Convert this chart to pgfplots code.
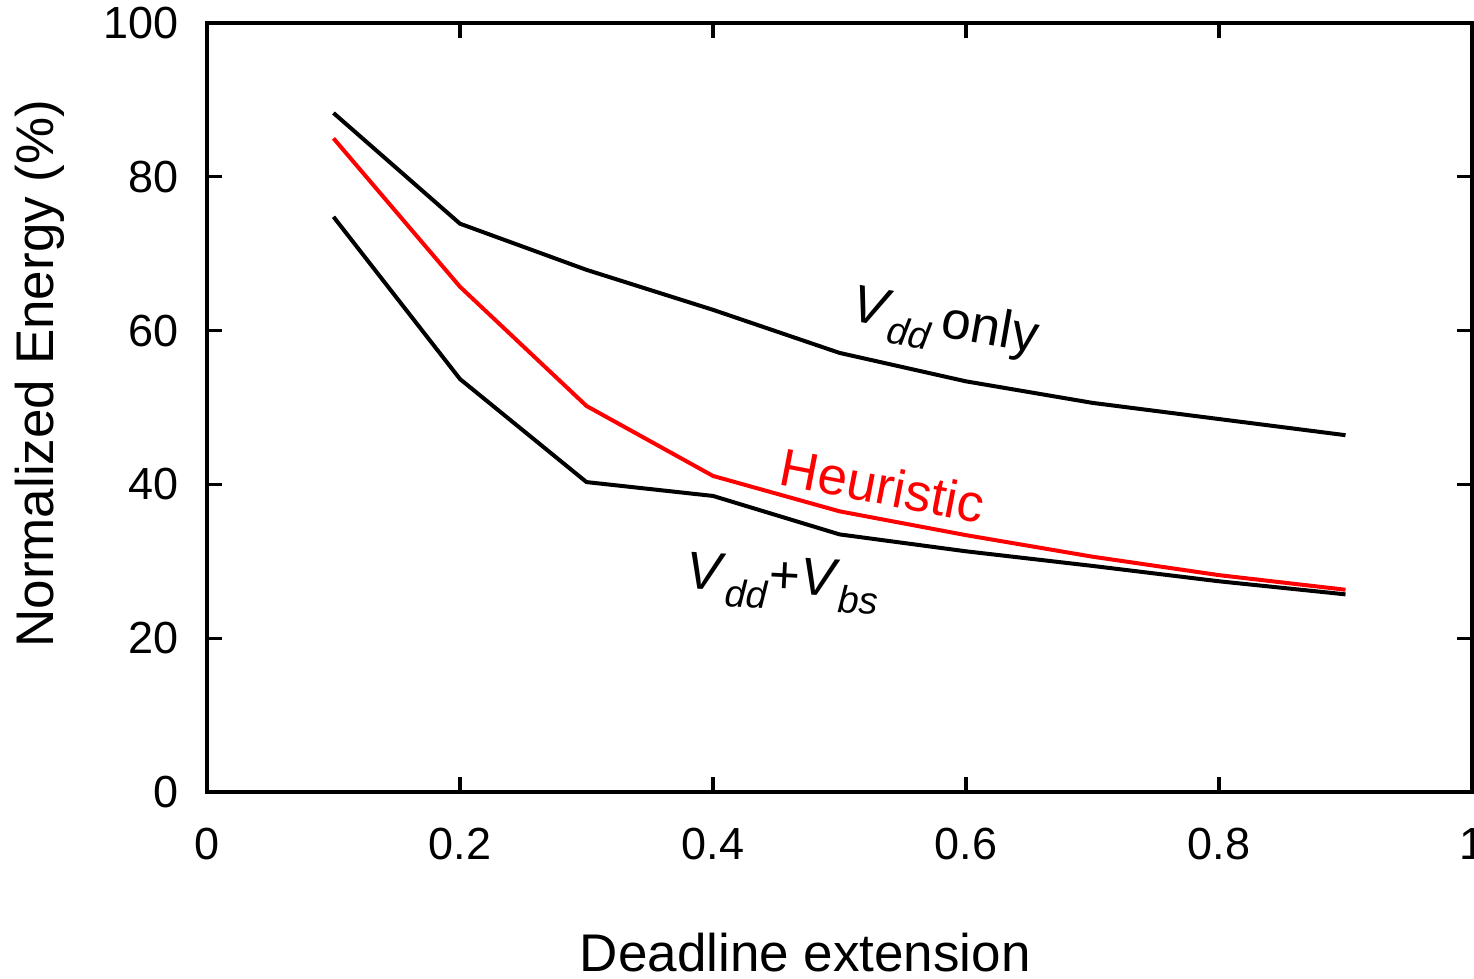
\documentclass[border=0pt]{standalone}
\usepackage{pgfplots}
\pgfplotsset{compat=1.18}
\usepackage{fontspec}
\setmainfont{Liberation Sans}
\newcommand\sub[1]{\raisebox{-0.3em}{\fontsize{19bp}{20bp}\selectfont\textit{#1}}}
\begin{document}
\begin{tikzpicture}[x=1bp,y=1bp]
\begin{axis}[
  scale only axis,
  width=632.5bp, height=384.5bp,
  xmin=0, xmax=1, ymin=0, ymax=100,
  xtick={0,0.2,0.4,0.6,0.8,1},
  ytick={0,20,40,60,80,100},
  xticklabels={0,0.2,0.4,0.6,0.8,1},
  tick align=inside,
  major tick length=7.5bp,
  tick style={line width=1.6bp,black},
  axis line style={line width=1.6bp},
  /pgf/number format/assume math mode=true,
  ticklabel style={font=\fontsize{22.5bp}{26bp}\selectfont},
  yticklabel style={xshift=-10.5bp},
  xticklabel style={yshift=-14.5bp},
  label style={font=\fontsize{26.5bp}{30bp}\selectfont},
  xlabel={Deadline extension},
  ylabel={Normalized Energy (\%)},
  x label style={at={(axis description cs:0.473,-0.234)}, anchor=base},
  y label style={at={(axis description cs:-0.132,0.544)}, anchor=center},
  clip=false,
]
\addplot[black, line width=2bp] coordinates {
(0.1,88.3) (0.2,73.9) (0.3,67.9) (0.4,62.7) (0.5,57.1) (0.6,53.4) (0.7,50.6) (0.8,48.5) (0.9,46.4)};
\addplot[red, line width=2bp] coordinates {
(0.1,85.0) (0.2,65.7) (0.3,50.2) (0.4,41.1) (0.5,36.5) (0.6,33.4) (0.7,30.6) (0.8,28.2) (0.9,26.3)};
\addplot[black, line width=2bp] coordinates {
(0.1,74.8) (0.2,53.7) (0.3,40.3) (0.4,38.5) (0.5,33.5) (0.6,31.3) (0.7,29.4) (0.8,27.4) (0.9,25.7)};
\node[rotate=-10, font=\fontsize{26.5bp}{30bp}\selectfont] at (axis cs:0.583,60.6) {\textit{V}\sub{dd}\,only};
\node[rotate=-11, red, font=\fontsize{26.5bp}{30bp}\selectfont] at (axis cs:0.534,39.9) {Heuristic};
\node[rotate=-3, font=\fontsize{26.5bp}{30bp}\selectfont] at (axis cs:0.455,27.1) {\textit{V}\sub{dd}+\textit{V}\sub{bs}};
\end{axis}
\pgfresetboundingbox
\path[use as bounding box] (-103.5bp,-93.5bp) rectangle (633.5bp,396bp);
\end{tikzpicture}
\end{document}
